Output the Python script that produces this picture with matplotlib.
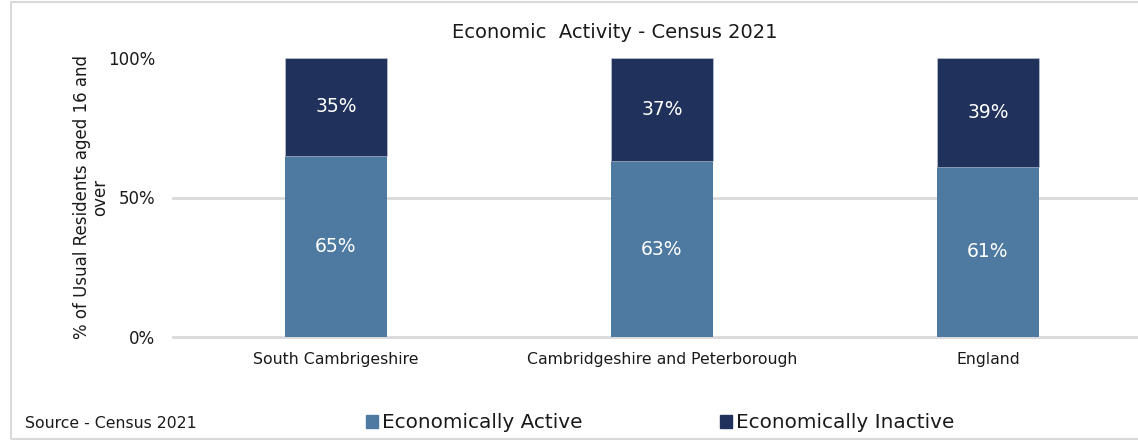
import matplotlib.pyplot as plt
from matplotlib.patches import Rectangle, Patch

areas = ["South Cambrigeshire", "Cambridgeshire and Peterborough", "England"]
active = [0.65, 0.63, 0.61]
inactive = [0.35, 0.37, 0.39]
series_names = ["Economically Active", "Economically Inactive"]

c_active = "#4E79A0"
c_inactive = "#20315B"
grid_c = "#D9D9D9"

plt.rcParams['font.family'] = ['DejaVu Sans']

W, H = 1138, 443
fig = plt.figure(figsize=(W / 100, H / 100), dpi=100)

# outer chart border
fig.patches.append(Rectangle((11 / W, 4 / H), 1.2, 437 / H, transform=fig.transFigure,
                             fill=False, edgecolor=grid_c, lw=1.5))

ax = fig.add_axes([173 / W, (H - 337) / H, 978 / W, 279 / H])
x = list(range(len(areas)))
ax.bar(x, active, width=0.31, color=c_active, zorder=3)
ax.bar(x, inactive, width=0.31, bottom=active, color=c_inactive, zorder=3,
       edgecolor="#C8D0DC", linewidth=0.4)

for i in x:
    ax.text(i, active[i] / 2, f"{active[i]:.0%}", ha="center", va="center",
            color="white", fontsize=13.5, zorder=4)
    ax.text(i, active[i] + inactive[i] / 2, f"{inactive[i]:.0%}", ha="center",
            va="center", color="white", fontsize=13.5, zorder=4)

ax.set_xlim(-0.5, 2.5)
ax.set_ylim(0, 1)
ax.set_yticks([0, 0.5, 1])
ax.set_yticklabels(["0%", "50%", "100%"])
ax.set_xticks(x)
ax.set_xticklabels(areas)
ax.tick_params(axis="y", length=0, pad=13, labelsize=12, colors="#1a1a1a")
ax.tick_params(axis="x", length=0, pad=11, labelsize=11.3, colors="#1a1a1a")
for s in ax.spines.values():
    s.set_visible(False)
ax.grid(axis="y", color=grid_c, lw=2, zorder=0)
for gl in ax.get_ygridlines():
    gl.set_clip_on(False)
ax.get_ygridlines()[-1].set_visible(False)

fig.text(91 / W, 1 - 197 / H, "% of Usual Residents aged 16 and\nover", rotation=90,
         ha="center", va="center", fontsize=12, color="#1a1a1a", multialignment="center",
         linespacing=1.0)
fig.text(615 / W, 1 - 33 / H, "Economic  Activity - Census 2021", ha="center", va="center",
         fontsize=14, color="#1a1a1a")
fig.text(25 / W, 1 - 424 / H, "Source - Census 2021", ha="left", va="center",
         fontsize=11.3, color="#1a1a1a")

handles = [Patch(color=c_active), Patch(color=c_inactive)]
fig.legend(handles, series_names, loc="center", bbox_to_anchor=(660 / W, 1 - 423 / H),
           ncol=2, frameon=False, fontsize=14.4, handlelength=0.6, handleheight=0.6,
           handletextpad=0.2, columnspacing=6.9, labelcolor="#1a1a1a")

fig.savefig("out.png", dpi=100)
